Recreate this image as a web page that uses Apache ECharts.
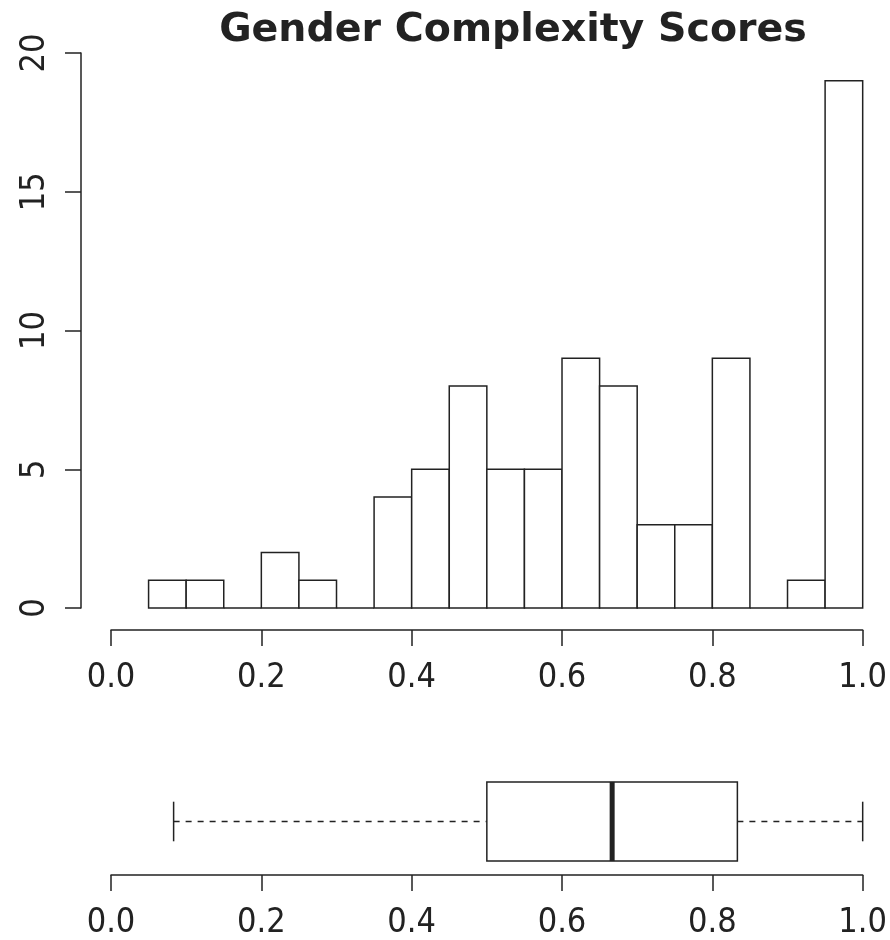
<!DOCTYPE html>
<html><head><meta charset="utf-8">
<script src="https://cdn.jsdelivr.net/npm/echarts@6/dist/echarts.min.js"></script>
<style>html,body{margin:0;padding:0;background:#fff}#c{width:890px;height:940px}</style>
</head><body><div id="c"></div>
<script>
const binStarts = [0.05,0.10,0.15,0.20,0.25,0.30,0.35,0.40,0.45,0.50,0.55,0.60,0.65,0.70,0.75,0.80,0.85,0.90,0.95];
const binWidth = 0.05;
const counts = [1,1,0,2,1,0,4,5,8,5,5,9,8,3,3,9,0,1,19];
const xTicks = [0.0,0.2,0.4,0.6,0.8,1.0];
const yTicks = [0,5,10,15,20];
// boxplot stats: lower whisker, Q1, median, Q3, upper whisker
const boxStats = [0.0833, 0.5, 0.6667, 0.8333, 1.0];

const ink = '#222';
const labelFont = '"Liberation Sans Narrow","DejaVu Sans Condensed","Liberation Sans",sans-serif';
const histData = binStarts.map((s,i)=>[s, s+binWidth, counts[i]]);

const chart = echarts.init(document.getElementById('c'), null, {renderer:'canvas'});
const axisLabelStyle = {color: ink, fontFamily: labelFont, fontSize: 34};
chart.setOption({
  animation:false,
  backgroundColor:'#fff',
  title:{text:'Gender Complexity Scores', left:508, top:6, textAlign:'center',
    textStyle:{fontFamily:'"DejaVu Sans",sans-serif', fontWeight:'bold', fontSize:39.5, color:ink}},
  grid:[
    {left:111, width:752, top:53, height:555},
    {left:111, width:752, top:772, height:100}
  ],
  xAxis:[
    {gridIndex:0, type:'value', min:0, max:1, interval:0.2, offset:22,
      axisLine:{show:true, onZero:false, lineStyle:{color:ink, width:1.5}},
      axisTick:{show:true, length:16, inside:false, lineStyle:{color:ink, width:1.5}},
      axisLabel:{...axisLabelStyle, margin:31, formatter:v=>v.toFixed(1)},
      splitLine:{show:false}},
    {gridIndex:1, type:'value', min:0, max:1, interval:0.2, offset:4,
      axisLine:{show:true, onZero:false, lineStyle:{color:ink, width:1.5}},
      axisTick:{show:true, length:16, lineStyle:{color:ink, width:1.5}},
      axisLabel:{...axisLabelStyle, margin:31, formatter:v=>v.toFixed(1)},
      splitLine:{show:false}}
  ],
  yAxis:[
    {gridIndex:0, type:'value', min:0, max:20, interval:5, offset:30,
      axisLine:{show:true, onZero:false, lineStyle:{color:ink, width:1.5}},
      axisTick:{show:true, length:16, lineStyle:{color:ink, width:1.5}},
      axisLabel:{...axisLabelStyle, rotate:90, margin:29},
      splitLine:{show:false}},
    {gridIndex:1, type:'value', min:0, max:1, show:false}
  ],
  series:[
    {type:'custom', xAxisIndex:0, yAxisIndex:0, data:histData,
      renderItem:(params, api)=>{
        const p0 = api.coord([api.value(0), 0]);
        const p1 = api.coord([api.value(1), api.value(2)]);
        return {type:'rect', shape:{x:p0[0], y:p1[1], width:p1[0]-p0[0], height:p0[1]-p1[1]},
          style:{fill:'#fff', stroke:ink, lineWidth:1.5}};
      }},
    {type:'custom', xAxisIndex:1, yAxisIndex:1, data:[boxStats],
      renderItem:(params, api)=>{
        const lw=api.value(0), q1=api.value(1), md=api.value(2), q3=api.value(3), uw=api.value(4);
        const c = (x,y)=>api.coord([x,y]);
        const yMid=0.5, yTop=0.9, yBot=0.1, capTop=0.7, capBot=0.3;
        const a=c(lw,yMid), b=c(q1,yMid), d=c(q3,yMid), e=c(uw,yMid);
        const bt=c(q1,yTop), bb=c(q3,yBot);
        const mt=c(md,yTop), mb=c(md,yBot);
        const ct=c(lw,capTop), cb=c(lw,capBot), ut=c(uw,capTop), ub=c(uw,capBot);
        const dash={stroke:ink, lineWidth:1.5, lineDash:[6,6]};
        const solid={stroke:ink, lineWidth:1.5};
        return {type:'group', children:[
          {type:'line', shape:{x1:a[0],y1:a[1],x2:b[0],y2:b[1]}, style:dash},
          {type:'line', shape:{x1:d[0],y1:d[1],x2:e[0],y2:e[1]}, style:dash},
          {type:'line', shape:{x1:ct[0],y1:ct[1],x2:cb[0],y2:cb[1]}, style:solid},
          {type:'line', shape:{x1:ut[0],y1:ut[1],x2:ub[0],y2:ub[1]}, style:solid},
          {type:'rect', shape:{x:bt[0], y:bt[1], width:bb[0]-bt[0], height:bb[1]-bt[1]}, style:{fill:'#fff', stroke:ink, lineWidth:1.5}},
          {type:'line', shape:{x1:mt[0],y1:mt[1],x2:mb[0],y2:mb[1]}, style:{stroke:ink, lineWidth:5}}
        ]};
      }}
  ]
});
</script></body></html>
